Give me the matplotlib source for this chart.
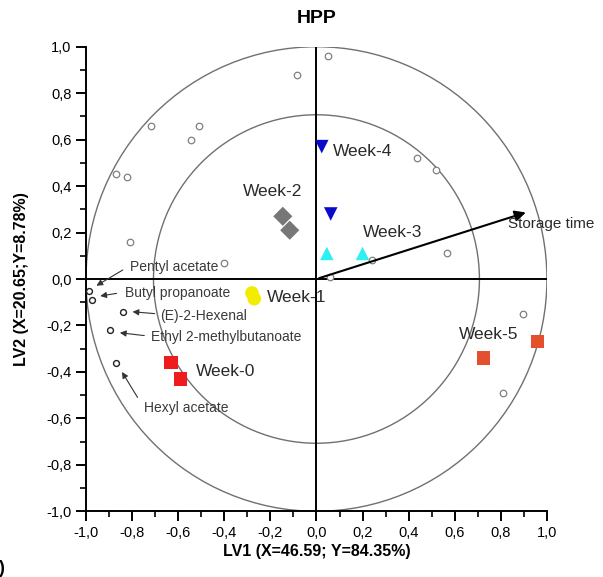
import matplotlib.pyplot as plt
import numpy as np
from matplotlib.patches import Circle

plt.rcParams['font.family'] = ['Liberation Sans', 'DejaVu Sans']

# Sample scores (LV1, LV2) per storage week
weeks = ['Week-0', 'Week-1', 'Week-2', 'Week-3', 'Week-4', 'Week-5']
week_x = [[-0.63, -0.59], [-0.28, -0.27], [-0.146, -0.116], [0.045, 0.20], [0.023, 0.062], [0.725, 0.96]]
week_y = [[-0.36, -0.43], [-0.06, -0.085], [0.27, 0.21], [0.11, 0.11], [0.57, 0.28], [-0.34, -0.27]]
week_colors = ['#ee1c1c', '#f2ec00', '#777777', '#2ef0f0', '#0a0acc', '#e4502e']
week_markers = ['s', 'o', 'D', '^', 'v', 's']
week_label_x = [-0.525, -0.215, -0.32, 0.20, 0.072, 0.62]
week_label_y = [-0.40, -0.08, 0.375, 0.20, 0.55, -0.24]

# Volatile loadings (unlabelled)
var_x = [0.05, -0.085, -0.72, -0.51, -0.545, -0.87, -0.82, -0.81, -0.40, 0.435, 0.517, 0.565, 0.06, 0.24, 0.895, 0.81]
var_y = [0.96, 0.88, 0.66, 0.66, 0.60, 0.45, 0.44, 0.16, 0.07, 0.52, 0.47, 0.11, 0.01, 0.08, -0.15, -0.49]

# Labelled volatiles
lab_names = ['Pentyl acetate', 'Butyl propanoate', '(E)-2-Hexenal', 'Ethyl 2-methylbutanoate', 'Hexyl acetate']
lab_x = [-0.987, -0.974, -0.84, -0.895, -0.87]
lab_y = [-0.05, -0.09, -0.14, -0.22, -0.36]
lab_text_x = [-0.81, -0.83, -0.68, -0.72, -0.75]
lab_text_y = [0.05, -0.06, -0.16, -0.25, -0.555]
lab_tail_x = [-0.83, -0.855, -0.69, -0.735, -0.77]
lab_tail_y = [0.045, -0.06, -0.15, -0.245, -0.52]
lab_head_x = [-0.965, -0.95, -0.81, -0.865, -0.85]
lab_head_y = [-0.035, -0.075, -0.14, -0.23, -0.39]

storage_x, storage_y = 0.92, 0.29

fig = plt.figure(figsize=(6.03, 5.77), dpi=100)
ax = fig.add_axes([0.1426, 0.1139, 0.7644, 0.8051])

# explained variance circles
for r in [1.0, np.sqrt(0.5)]:
    ax.add_patch(Circle((0, 0), r, fill=False, ec='#707070', lw=1.0, zorder=1))

ax.axhline(0, color='black', lw=1.4, zorder=2)
ax.axvline(0, color='black', lw=1.4, zorder=2)

ax.scatter(var_x, var_y, s=22, facecolors='white', edgecolors='#808080', linewidths=0.9, zorder=3)
ax.scatter(lab_x, lab_y, s=18, facecolors='white', edgecolors='#222222', linewidths=1.0, zorder=3)

for i, name in enumerate(lab_names):
    ax.annotate('', xy=(lab_head_x[i], lab_head_y[i]), xytext=(lab_tail_x[i], lab_tail_y[i]),
                arrowprops=dict(arrowstyle='-|>', color='#333333', lw=0.8, mutation_scale=9), zorder=4)
    ax.text(lab_text_x[i], lab_text_y[i], name, fontsize=10, color='#3a3a3a', ha='left', va='center', zorder=5)

for i, w in enumerate(weeks):
    ax.scatter(week_x[i], week_y[i], s=95, marker=week_markers[i], color=week_colors[i], edgecolors='none', zorder=6)
    ax.text(week_label_x[i], week_label_y[i], w, fontsize=12.5, color='#2a2a2a', ha='left', va='center', zorder=7)

ax.annotate('', xy=(storage_x, storage_y), xytext=(0, 0),
            arrowprops=dict(arrowstyle='-|>', color='black', lw=1.5, mutation_scale=16), zorder=5)
ax.text(0.83, 0.235, 'Storage time', fontsize=11, color='#2a2a2a', ha='left', va='center', zorder=7,
        clip_on=False)

ax.set_xlim(-1, 1)
ax.set_ylim(-1, 1)
ticks = np.round(np.arange(-1, 1.01, 0.2), 1)
ticks[5] = 0.0
fmt = [f'{t:.1f}'.replace('.', ',') for t in ticks]
ax.set_xticks(ticks)
ax.set_xticklabels(fmt)
ax.set_yticks(ticks)
ax.set_yticklabels(fmt)
ax.set_xticks(np.arange(-0.9, 1.0, 0.2), minor=True)
ax.set_yticks(np.arange(-0.9, 1.0, 0.2), minor=True)
ax.tick_params(which='major', direction='out', length=7, width=1.4, labelsize=10.5)
ax.tick_params(which='minor', direction='out', length=4, width=1.2)
for s in ['top', 'right']:
    ax.spines[s].set_visible(False)
for s in ['left', 'bottom']:
    ax.spines[s].set_linewidth(1.4)

ax.set_title('HPP', fontsize=14, fontweight='bold', pad=17)
ax.set_xlabel('LV1 (X=46.59; Y=84.35%)', fontsize=11.5, fontweight='bold', labelpad=3)
ax.set_ylabel('LV2 (X=20.65;Y=8.78%)', fontsize=11.5, fontweight='bold', labelpad=12)
fig.text(-0.018, 0.0, 'b)', fontsize=13, fontweight='bold', ha='left', va='bottom')

fig.savefig('out.png', dpi=100)
